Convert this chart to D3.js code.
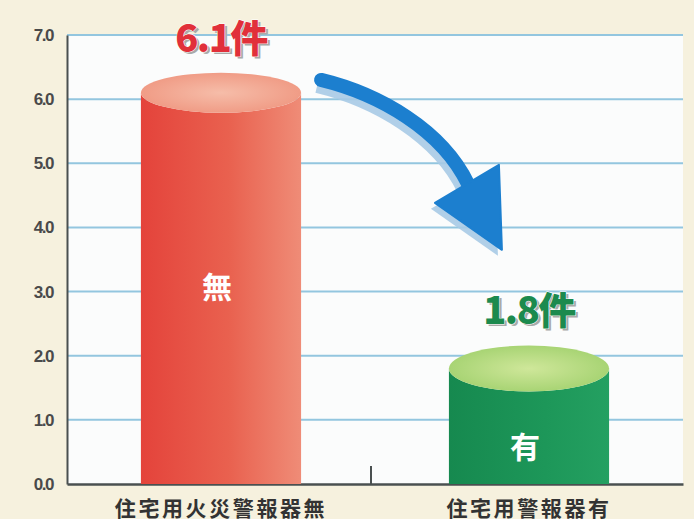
<!DOCTYPE html>
<html>
<head>
<meta charset="utf-8">
<script src="https://cdn.jsdelivr.net/npm/d3@7"></script>
<style>
  html, body { margin: 0; padding: 0; background: #f6f1de; }
  svg { display: block; }
</style>
</head>
<body>
<div id="chart"></div>
<script>
// データ
const categories = ["住宅用火災警報器無", "住宅用警報器有"];
const values = [6.1, 1.8];
const innerLabels = ["無", "有"];
const valueLabels = ["6.1件", "1.8件"];
const yTicks = [0, 1, 2, 3, 4, 5, 6, 7];

const W = 694, H = 519;
const margin = { top: 35, right: 11, bottom: 35, left: 67 };
const width = W - margin.left - margin.right;
const height = H - margin.top - margin.bottom;

const svg = d3.select("#chart").append("svg")
  .attr("width", W)
  .attr("height", H);

const defs = svg.append("defs");

// 赤の円柱
const gRed = defs.append("linearGradient").attr("id", "redBody").attr("x1", 0).attr("x2", 1);
gRed.append("stop").attr("offset", "0%").attr("stop-color", "#e4433b");
gRed.append("stop").attr("offset", "55%").attr("stop-color", "#e9614f");
gRed.append("stop").attr("offset", "100%").attr("stop-color", "#ef8c77");
const gRedTop = defs.append("radialGradient").attr("id", "redTop");
gRedTop.append("stop").attr("offset", "0%").attr("stop-color", "#f6bda9");
gRedTop.append("stop").attr("offset", "100%").attr("stop-color", "#f09c86");

// 緑の円柱
const gGreen = defs.append("linearGradient").attr("id", "greenBody").attr("x1", 0).attr("x2", 1);
gGreen.append("stop").attr("offset", "0%").attr("stop-color", "#16894f");
gGreen.append("stop").attr("offset", "60%").attr("stop-color", "#1d9759");
gGreen.append("stop").attr("offset", "100%").attr("stop-color", "#24a061");
const gGreenTop = defs.append("radialGradient").attr("id", "greenTop");
gGreenTop.append("stop").attr("offset", "0%").attr("stop-color", "#cfe79a");
gGreenTop.append("stop").attr("offset", "100%").attr("stop-color", "#a8d474");

const bodyFill = ["url(#redBody)", "url(#greenBody)"];
const topFill = ["url(#redTop)", "url(#greenTop)"];
const labelColor = ["#e1303a", "#1c8a4e"];

const g = svg.append("g").attr("transform", `translate(${margin.left},${margin.top})`);

// ==== Scales ====
const x = d3.scaleBand()
  .domain(categories)
  .range([0, width])
  .paddingInner(0.48)
  .paddingOuter(0.24);

const y = d3.scaleLinear()
  .domain([0, 7])
  .range([height, 0]);

// プロット背景
g.append("rect")
  .attr("width", width)
  .attr("height", height)
  .attr("fill", "#fbfcfc");

// グリッド線
g.append("g")
  .selectAll("line")
  .data(yTicks.filter(d => d > 0))
  .join("line")
    .attr("x1", 0)
    .attr("x2", width)
    .attr("y1", d => y(d))
    .attr("y2", d => y(d))
    .attr("stroke", "#93c6df")
    .attr("stroke-width", 2);

// Y軸
const yAxis = g.append("g")
  .call(d3.axisLeft(y).tickValues(yTicks).tickFormat(d3.format(".1f")).tickSize(0).tickPadding(14));
yAxis.select(".domain").attr("stroke", "#4a5050").attr("stroke-width", 2);
yAxis.selectAll("text")
  .style("font-family", "'Liberation Sans', Arial, sans-serif")
  .style("font-weight", "bold")
  .style("font-size", "17px")
  .style("letter-spacing", "-1.5px")
  .attr("fill", "#4a4a4a");

// X軸
const xAxis = g.append("g")
  .attr("transform", `translate(0,${height})`)
  .call(d3.axisBottom(x).tickSize(0).tickPadding(17));
xAxis.select(".domain").attr("stroke", "#4a5050").attr("stroke-width", 2.5);
xAxis.selectAll("text")
  .style("font-family", "'Noto Sans CJK JP', sans-serif")
  .style("font-weight", "bold")
  .style("font-size", "21px")
  .style("letter-spacing", "2.6px")
  .attr("fill", "#333");

// 区切りの目盛り
g.append("line")
  .attr("x1", width / 2 - 4)
  .attr("x2", width / 2 - 4)
  .attr("y1", height)
  .attr("y2", height - 18)
  .attr("stroke", "#4a5050")
  .attr("stroke-width", 2);

// ==== 円柱 ====
const bw = x.bandwidth();
const ry = [20, 23];
const bars = g.selectAll(".bar")
  .data(values)
  .join("g")
    .attr("class", "bar");

bars.append("path")
  .attr("d", (d, i) => {
    const x0 = x(categories[i]), yt = y(d), r = ry[i];
    return `M${x0},${height} L${x0},${yt} A${bw / 2},${r} 0 0 0 ${x0 + bw},${yt} L${x0 + bw},${height} Z`;
  })
  .attr("fill", (d, i) => bodyFill[i]);

bars.append("ellipse")
  .attr("cx", (d, i) => x(categories[i]) + bw / 2)
  .attr("cy", d => y(d))
  .attr("rx", bw / 2)
  .attr("ry", (d, i) => ry[i])
  .attr("fill", (d, i) => topFill[i]);

// 円柱内ラベル
bars.append("text")
  .attr("x", (d, i) => x(categories[i]) + bw / 2 - 4)
  .attr("y", d => y(d / 2) + (d > 3 ? 10 : 32))
  .attr("text-anchor", "middle")
  .style("font-family", "'Noto Sans CJK JP', sans-serif")
  .style("font-weight", "bold")
  .style("font-size", "30px")
  .attr("fill", "#fff")
  .text((d, i) => innerLabels[i]);

// 値ラベル(影付き)
const vlab = g.selectAll(".vlab")
  .data(values)
  .join("g")
    .attr("class", "vlab")
    .attr("transform", (d, i) => `translate(${x(categories[i]) + bw / 2},${y(d) - (i === 0 ? 41 : 45)})`);

vlab.append("text")
  .attr("x", 2.5).attr("y", 2.5)
  .attr("text-anchor", "middle")
  .style("font-family", "'Noto Sans CJK JP', sans-serif")
  .style("font-weight", "900")
  .style("font-size", "38px")
  .style("letter-spacing", "-1.5px")
  .attr("fill", "#a9aaa8")
  .text((d, i) => valueLabels[i]);

vlab.append("text")
  .attr("text-anchor", "middle")
  .style("font-family", "'Noto Sans CJK JP', sans-serif")
  .style("font-weight", "900")
  .style("font-size", "38px")
  .style("letter-spacing", "-1.5px")
  .attr("fill", (d, i) => labelColor[i])
  .attr("stroke", "#fff")
  .attr("stroke-width", 1)
  .style("paint-order", "stroke")
  .text((d, i) => valueLabels[i]);

// ==== 矢印 ====
const ax0 = x(categories[0]) + bw + 20, ay0 = y(6.3);
const ax1 = x(categories[1]) + 19, ay1 = y(4.68);
const arrowPath = `M${ax0},${ay0} C${ax0 + 58},${ay0 + 14} ${ax1 - 26},${ay1 - 54} ${ax1},${ay1}`;
const head = [[ax1 - 33, ay1 + 19], [ax1 + 31, ay1 - 19], [ax1 + 34, ay1 + 66]];

const arrowShadow = g.append("g").attr("transform", "translate(-4,6)").attr("opacity", 0.9);
arrowShadow.append("path")
  .attr("d", arrowPath)
  .attr("fill", "none")
  .attr("stroke", "#a8cbe6")
  .attr("stroke-width", 14);
arrowShadow.append("path")
  .attr("d", d3.line()(head) + "Z")
  .attr("fill", "#a8cbe6");

g.append("path")
  .attr("d", arrowPath)
  .attr("fill", "none")
  .attr("stroke", "#1c7fcf")
  .attr("stroke-width", 14)
  .attr("stroke-linecap", "round");
g.append("path")
  .attr("d", d3.line()(head) + "Z")
  .attr("fill", "#1c7fcf")
  .attr("stroke", "#1c7fcf")
  .attr("stroke-width", 2)
  .attr("stroke-linejoin", "round");
</script>
</body>
</html>
